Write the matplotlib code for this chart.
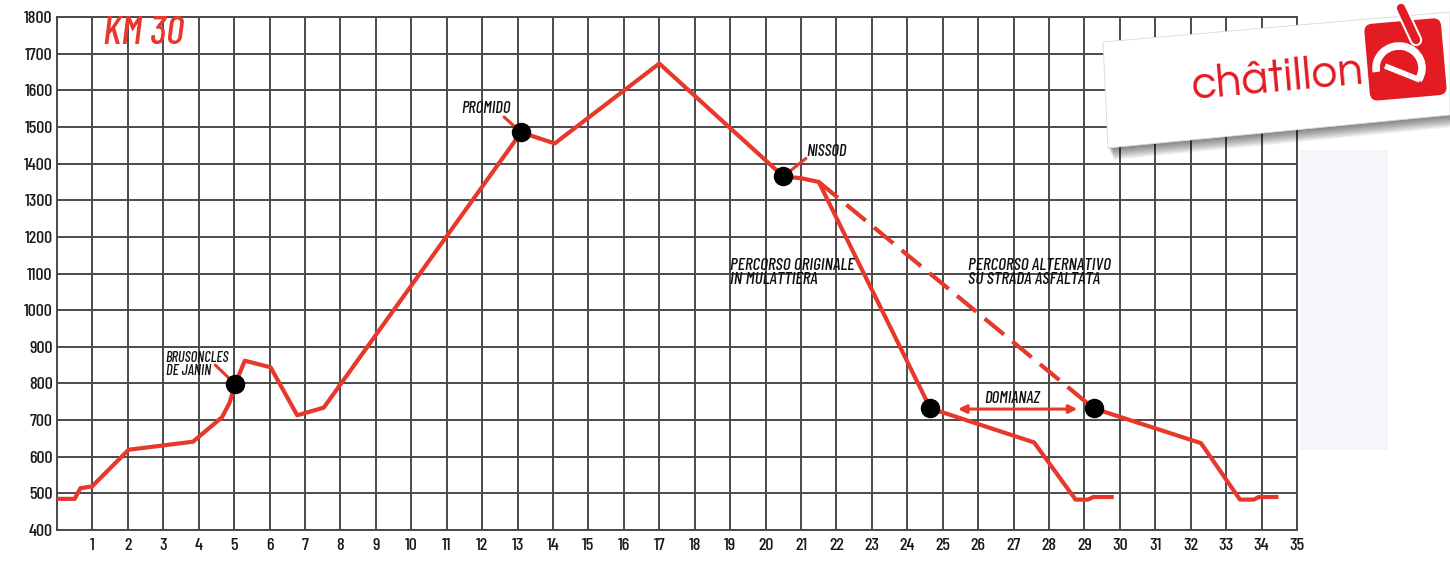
import numpy as np
import matplotlib.pyplot as plt
import matplotlib.transforms as mtransforms
import matplotlib.patheffects as pe
from matplotlib.patches import Polygon, FancyBboxPatch, Arc

# Elevation profile (km, metres)
km_main = [0, 0.5, 0.66, 0.99, 2.02, 3.84, 4.66, 4.87, 5.03, 5.3, 6.03, 6.78, 7.53,
           13.1, 14.05, 17.0, 20.5, 21.0, 21.5, 24.65, 27.58, 28.75, 29.1, 29.25, 29.77]
elev_main = [485, 485, 514, 519, 619, 641, 708, 747, 798, 862, 844, 713, 734,
             1485, 1455, 1673, 1365, 1360, 1350, 732, 639, 483, 483, 490, 490]

# alternative road (dashed) and its continuation
km_alt = [21.5, 29.26]
elev_alt = [1350, 732]
km_alt_tail = [29.26, 32.29, 33.39, 33.78, 33.92, 34.42]
elev_alt_tail = [732, 637, 483, 483, 490, 490]

# points of interest
stop_km = [5.03, 13.1, 20.5, 24.65, 29.26]
stop_elev = [798, 1485, 1365, 732, 732]

x_ticks = list(range(0, 36))
x_labels = [''] + [str(k) for k in range(1, 36)]
y_ticks = list(range(400, 1900, 100))

RED = '#e8372b'
LOGO_RED = '#e31b23'
GRID = '#4a4a4a'
COND = ['Barlow Condensed', 'Roboto Condensed', 'DejaVu Sans']

fig = plt.figure(figsize=(14.5, 5.64), dpi=100)
fig.patch.set_facecolor('white')
ax = fig.add_axes([57 / 1450, 1 - 530 / 564, (1297 - 57) / 1450, (530 - 17) / 564])
ax.set_xlim(0, 35)
ax.set_ylim(400, 1800)
ax.set_xticks(x_ticks)
ax.set_xticklabels(x_labels)
ax.set_yticks(y_ticks)
ax.grid(True, color=GRID, lw=1.4)
ax.set_axisbelow(True)
for s in ax.spines.values():
    s.set_color(GRID)
    s.set_linewidth(1.4)
ax.tick_params(length=0, labelsize=13, colors='#1a1a1a')
ax.tick_params(axis='x', pad=6)
ax.tick_params(axis='y', pad=3)
for lab in ax.get_xticklabels() + ax.get_yticklabels():
    lab.set_family(COND)
    lab.set_weight('medium')

# profile lines
ax.plot(km_main, elev_main, color=RED, lw=3, solid_joinstyle='round', zorder=3)
ax.plot(km_alt, elev_alt, color=RED, lw=3, dashes=(6, 2.6), zorder=3)
ax.plot(km_alt_tail, elev_alt_tail, color=RED, lw=3, zorder=3)
ax.plot(stop_km, stop_elev, 'o', color='black', ms=13, zorder=4)

# labels
txt = dict(family=COND, style='italic', weight='medium', color='#111111')
lead = dict(arrowstyle='-', color=RED, lw=2.2, shrinkA=0, shrinkB=0)
ax.text(1.3, 1753, 'KM 30', color=RED, fontsize=29, family=COND, style='italic',
        weight='medium', va='center', ha='left')

ax.text(3.07, 851, 'BRUSONCLES\nDE JANIN', fontsize=10.5, va='center', ha='left',
        linespacing=0.95, **txt)
ax.annotate('', xy=(stop_km[0], stop_elev[0]), xytext=(4.47, 850), arrowprops=lead)
ax.text(11.42, 1550, 'PROMIDO', fontsize=12, va='center', ha='left', **txt)
ax.annotate('', xy=(stop_km[1], stop_elev[1]), xytext=(12.62, 1527), arrowprops=lead)
ax.text(21.14, 1432, 'NISSOD', fontsize=12, va='center', ha='left', **txt)
ax.annotate('', xy=(stop_km[2], stop_elev[2]), xytext=(21.14, 1414), arrowprops=lead)
ax.text(19.0, 1103, 'PERCORSO ORIGINALE\nIN MULATTIERA', fontsize=12.5, va='center',
        ha='left', linespacing=0.95, **txt)
ax.text(25.7, 1103, 'PERCORSO ALTERNATIVO\nSU STRADA ASFALTATA', fontsize=12.5,
        va='center', ha='left', linespacing=0.95, **txt)
ax.text(26.95, 760, 'DOMIANAZ', fontsize=12, va='center', ha='center', **txt)
ax.annotate('', xy=(25.43, 730), xytext=(28.8, 730),
            arrowprops=dict(arrowstyle='<|-|>', color=RED, lw=2.2,
                            mutation_scale=12, shrinkA=0, shrinkB=0))

# logo card on top, in pixel coordinates
ov = fig.add_axes([0, 0, 1, 1], zorder=10)
ov.set_xlim(0, 1450)
ov.set_ylim(564, 0)
ov.axis('off')
ov.patch.set_alpha(0)

# faint smudge right of the grid
ov.add_patch(Polygon([(1300, 150), (1388, 150), (1388, 450), (1300, 450)],
                     closed=True, color='#f4f6f9', lw=0, zorder=0))

card = [(1103, 42), (1450, 12), (1450, 115), (1108, 148)]
for i in range(10):
    off = 1 + i * 1.2
    ov.add_patch(Polygon([(x + 0.5 * off, y + off) for x, y in card],
                         closed=True, color='black', alpha=0.06, lw=0, zorder=1))
ov.add_patch(Polygon(card, closed=True, facecolor='white', edgecolor='#d8d8d8',
                     lw=0.6, zorder=2))

ov.text(1193, 99, 'châtillon', rotation=5.2, rotation_mode='anchor', ha='left',
        va='baseline', fontsize=33, color=LOGO_RED,
        family=['Questrial', 'Lato', 'DejaVu Sans'], zorder=3)

rot = mtransforms.Affine2D().rotate_deg_around(1405, 60, -5) + ov.transData
ov.add_patch(FancyBboxPatch((1367, 21), 77, 77, boxstyle='round,pad=0,rounding_size=8',
                            facecolor=LOGO_RED, edgecolor='none', transform=rot, zorder=3))
ov.add_patch(Arc((1399, 68), 46, 44, theta1=170, theta2=392, color='white', lw=5.5,
                 zorder=4))
ov.plot([1385, 1420], [66, 80], color='white', lw=4, solid_capstyle='butt', zorder=4)
ov.plot([1401, 1416], [8, 40], color=LOGO_RED, lw=6, solid_capstyle='round', zorder=5,
        path_effects=[pe.Stroke(linewidth=9, foreground='white'), pe.Normal()])

fig.savefig('out.png', dpi=100)
